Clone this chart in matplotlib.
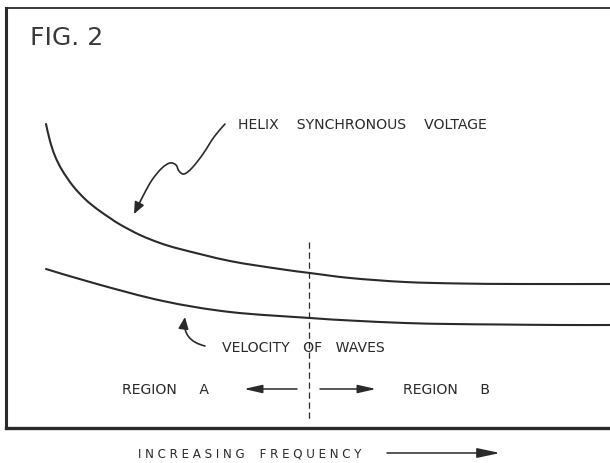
import matplotlib.pyplot as plt
from matplotlib.patches import FancyArrowPatch, PathPatch
from matplotlib.path import Path

# curves (pixel units, y grows downward)
helix_x = [46, 50, 55, 62, 73, 85, 97, 110, 120, 140, 160, 180, 230, 280, 310, 350, 405, 460, 520, 610]
helix_y = [125, 142, 157, 171, 187, 200, 210, 219, 225.5, 236, 244, 250, 262, 270, 274, 279, 283, 284.5, 285, 285]
wave_x = [46, 97, 163, 230, 310, 350, 405, 450, 500, 560, 610]
wave_y = [270, 285, 302, 313, 319, 321.5, 324, 325, 325.5, 326, 326]

# squiggly pointer to the helix curve
squig_x = [225, 214, 203, 192, 184, 179, 176, 170, 162, 152, 143, 134]
squig_y = [125, 138, 155, 169, 175, 172, 166, 164, 169, 181, 197, 215]

ink = '#2a2a2a'


def smooth_path(xs, ys):
    # catmull-rom through the points, drawn as cubic beziers
    pts = list(zip(xs, ys))
    verts = [pts[0]]
    codes = [Path.MOVETO]
    n = len(pts)
    for i in range(n - 1):
        p0 = pts[max(i - 1, 0)]
        p1 = pts[i]
        p2 = pts[i + 1]
        p3 = pts[min(i + 2, n - 1)]
        c1 = (p1[0] + (p2[0] - p0[0]) / 6, p1[1] + (p2[1] - p0[1]) / 6)
        c2 = (p2[0] - (p3[0] - p1[0]) / 6, p2[1] - (p3[1] - p1[1]) / 6)
        verts += [c1, c2, p2]
        codes += [Path.CURVE4] * 3
    return Path(verts, codes)


fig = plt.figure(figsize=(6.1, 4.64), dpi=100)
ax = fig.add_axes([0, 0, 1, 1])
ax.set_xlim(0, 610)
ax.set_ylim(464, 0)
ax.axis('off')

# frame
ax.plot([6, 610], [9, 9], color=ink, lw=1.3)
ax.plot([6, 6], [9, 429], color=ink, lw=2.2)
ax.plot([6, 610], [429, 429], color=ink, lw=2.4)

for xs, ys in [(helix_x, helix_y), (wave_x, wave_y)]:
    ax.add_patch(PathPatch(smooth_path(xs, ys), fill=False, edgecolor=ink, lw=1.5, capstyle='round'))
ax.plot([309, 309], [243, 420], color=ink, lw=0.9, ls=(0, (5, 3)))

ax.add_patch(FancyArrowPatch(path=smooth_path(squig_x, squig_y),
                             arrowstyle='-|>,head_length=7,head_width=3', color=ink, lw=1.2))

ax.add_patch(FancyArrowPatch((205, 347), (185, 318), connectionstyle='arc3,rad=-0.45',
                             arrowstyle='-|>,head_length=7,head_width=3', color=ink, lw=1.2,
                             shrinkA=0, shrinkB=0))

ax.annotate('', xy=(244, 390), xytext=(297, 390),
            arrowprops=dict(arrowstyle='-|>,head_length=1.1,head_width=0.25', color=ink, lw=1.1,
                            shrinkA=0, shrinkB=0))
ax.annotate('', xy=(376, 390), xytext=(320, 390),
            arrowprops=dict(arrowstyle='-|>,head_length=1.1,head_width=0.25', color=ink, lw=1.1,
                            shrinkA=0, shrinkB=0))
ax.annotate('', xy=(500, 454), xytext=(387, 454),
            arrowprops=dict(arrowstyle='-|>,head_length=1.4,head_width=0.3', color=ink, lw=1.1,
                            shrinkA=0, shrinkB=0))

ax.text(30, 38, 'FIG. 2', fontsize=18, color='#3a3a3a', va='center', ha='left')
ax.text(238, 125, 'HELIX    SYNCHRONOUS    VOLTAGE', fontsize=10.1, color=ink, va='center')
ax.text(222, 348, 'VELOCITY   OF   WAVES', fontsize=10.1, color=ink, va='center')
ax.text(122, 390, 'REGION     A', fontsize=10.1, color=ink, va='center')
ax.text(403, 390, 'REGION     B', fontsize=10.1, color=ink, va='center')
ax.text(138, 454, 'I N C R E A S I N G    F R E Q U E N C Y', fontsize=8.6, color=ink, va='center')

fig.savefig('out.png', dpi=100)
